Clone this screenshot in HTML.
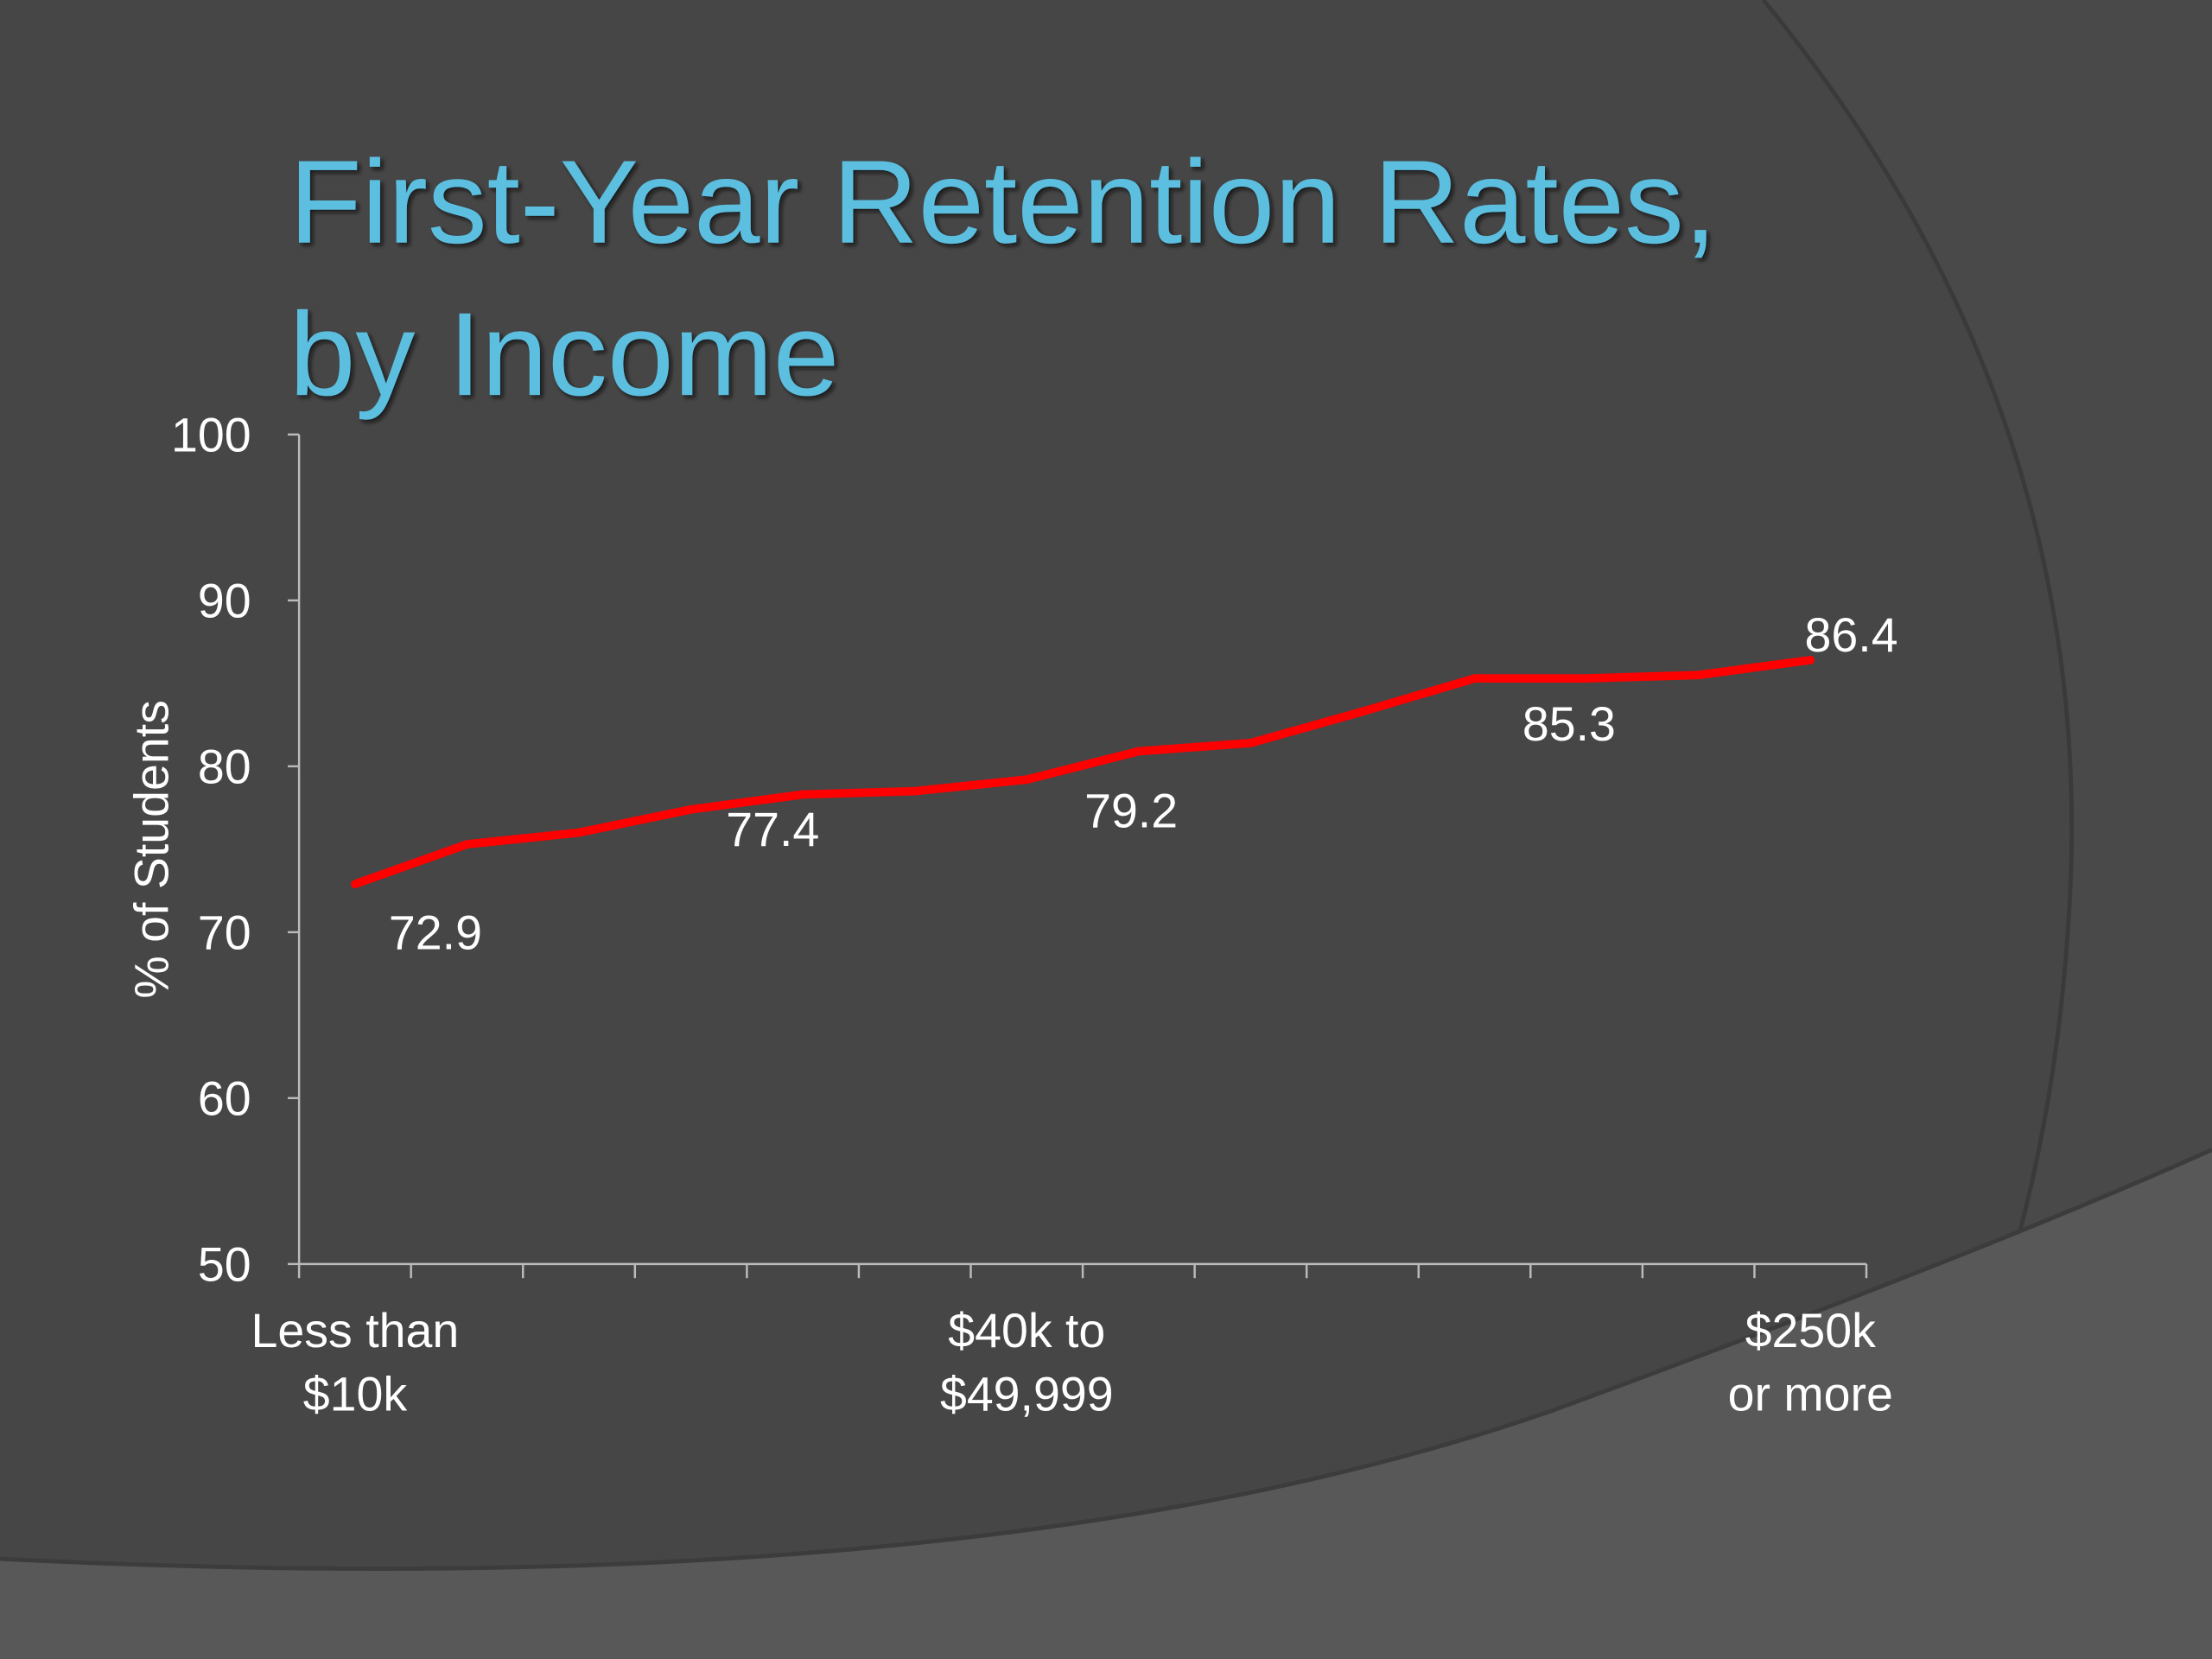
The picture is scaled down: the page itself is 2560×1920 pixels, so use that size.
<!DOCTYPE html>
<html><head><meta charset="utf-8"><style>
html,body{margin:0;padding:0;background:#464646;}
svg{display:block;font-family:"Liberation Sans",sans-serif;}
</style></head><body>
<svg id="chart" width="2560" height="1920" viewBox="0 0 1568 1176" xmlns="http://www.w3.org/2000/svg">
<defs>
<filter id="sh" x="-5%" y="-5%" width="110%" height="110%"><feDropShadow dx="2" dy="2" stdDeviation="1.5" flood-color="#111" flood-opacity="0.8"/></filter>
</defs>
<g>
<rect width="1568" height="1176" fill="#464646"/>
<path d="M1250,0 Q1480,280 1468,620 Q1455,950 1290,1176 L1568,1176 L1568,0 Z" fill="#494949"/>
<path d="M1250,0 Q1480,280 1468,620 Q1455,950 1290,1176" fill="none" stroke="#3a3a3a" stroke-width="3"/>
<path d="M0,1105 Q700,1140 1100,1000 Q1400,890 1568,815 L1568,1176 L0,1176 Z" fill="#585858"/>
<path d="M0,1105 Q700,1140 1100,1000 Q1400,890 1568,815" fill="none" stroke="#3c3c3c" stroke-width="3"/>
</g>
<g fill="#5bbfe0" font-size="84" filter="url(#sh)">
<text x="205" y="172" textLength="1012" lengthAdjust="spacingAndGlyphs">First-Year Retention Rates,</text>
<text x="205" y="280" textLength="390" lengthAdjust="spacingAndGlyphs">by Income</text>
</g>
<g id="axes"></g>
<g id="marks"></g>
<text transform="translate(119,602) rotate(-90)" text-anchor="middle" fill="#fff" font-size="34">% of Students</text>
</svg>
<script>
const categories=["Less than $10k","","","","","","$40k to $49,999","","","","","","","$250k or more"];
const values=[72.9,75.3,76.0,77.4,78.3,78.5,79.2,80.9,81.4,83.3,85.3,85.3,85.5,86.4];
const yTicks=[50,60,70,80,90,100];
const labelIdx=[0,3,6,10,13];
const labelText=["72.9","77.4","79.2","85.3","86.4"];
const labelDx=[57,58,74,67,29];
const labelDy=[46,26,34,44,-6];
const NS="http://www.w3.org/2000/svg";
const x0=212,x1=1323,yTop=308,yBot=896,yMin=50,yMax=100;
const n=categories.length;
const step=(x1-x0)/n;
function xs(i){return x0+step*(i+0.5);}
function ys(v){return yBot-(v-yMin)/(yMax-yMin)*(yBot-yTop);}
function mk(t,a,p){const e=document.createElementNS(NS,t);for(const k in a)e.setAttribute(k,a[k]);p.appendChild(e);return e;}
const axes=document.getElementById('axes'),marks=document.getElementById('marks');
let e=mk('line',{x1:x0,y1:yTop,x2:x0,y2:yBot,stroke:'#bbb','stroke-width':1.5},axes);


e=mk('line',{x1:x0,y1:yBot,x2:x1,y2:yBot,stroke:'#bbb','stroke-width':1.5},axes);


yTicks.forEach(v=>{
  const y=ys(v);
  let t=mk('line',{x1:x0-8,y1:y,x2:x0,y2:y,stroke:'#bbb','stroke-width':1.5},axes);
  
  
  let l=mk('text',{x:178,y:y+12,'text-anchor':'end',fill:'#fff','font-size':34},axes);
  l.textContent=v;
  
  
});
for(let i=0;i<=n;i++){
  const x=x0+step*i;
  let t=mk('line',{x1:x,y1:yBot,x2:x,y2:yBot+10,stroke:'#bbb','stroke-width':1.5},axes);
  
  
}
categories.forEach((c,i)=>{
  if(!c)return;
  const parts=c.indexOf(' to ')>0?[c.split(' to ')[0]+' to',c.split(' to ')[1]]:(c.startsWith('Less')?['Less than','$10k']:['$250k','or more']);
  let l=mk('text',{x:xs(i),y:955,'text-anchor':'middle',fill:'#fff','font-size':34},axes);
  
  
  parts.forEach((p,k)=>{const s=mk('tspan',{x:xs(i),dy:k?45:0},l);s.textContent=p;});
});
let d=values.map((v,i)=>(i?'L':'M')+xs(i).toFixed(1)+','+ys(v).toFixed(1)).join(' ');
e=mk('path',{d:d,fill:'none',stroke:'#ff0000','stroke-width':6,'stroke-linejoin':'round','stroke-linecap':'round'},marks);


labelIdx.forEach((i,k)=>{
  let l=mk('text',{x:xs(i)+labelDx[k],y:ys(values[i])+labelDy[k],'text-anchor':'middle',fill:'#fff','font-size':34},marks);
  l.textContent=labelText[k];
  
  
});
</script>
</body></html>
